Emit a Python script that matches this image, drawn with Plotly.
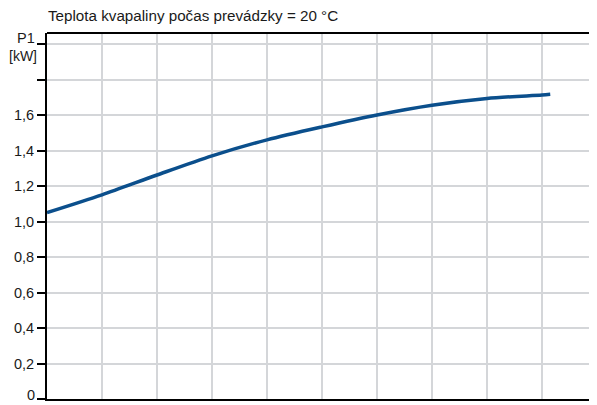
import plotly.graph_objects as go

x_vals = [0, 1, 2, 3, 4, 5, 6, 7, 8, 9, 9.15]
p1_kw = [1.05, 1.15, 1.262, 1.37, 1.46, 1.533, 1.6, 1.655, 1.693, 1.713, 1.717]

y_tickvals = [0, 0.2, 0.4, 0.6, 0.8, 1.0, 1.2, 1.4, 1.6, 1.8, 2.0]
y_ticktext = ["", "0,2", "0,4", "0,6", "0,8", "1,0", "1,2", "1,4", "1,6", "", ""]
x_gridvals = [1, 2, 3, 4, 5, 6, 7, 8, 9]

zero_label = "0"
axis_name = "P1"
unit_text = "[kW]"
title_text = "Teplota kvapaliny počas prevádzky = 20 °C"

font_family = "Liberation Sans, Arial, sans-serif"
text_color = "#1a1a1a"

# page body has an 8px margin; figure sized to fit the 597x405 window
W, H = 589, 397
PLOT_W = 550

fig = go.Figure()
fig.add_trace(go.Scatter(
    x=x_vals, y=p1_kw, mode="lines",
    line=dict(color="#0b4f8c", width=3.5, shape="spline", smoothing=0.8),
    showlegend=False, hoverinfo="skip",
))

fig.update_layout(
    width=W, height=H,
    margin=dict(l=39, r=0, t=25, b=6, autoexpand=False),
    paper_bgcolor="white", plot_bgcolor="white",
    font=dict(family=font_family, size=14, color=text_color),
    title=dict(text=title_text, x=40 / W, xanchor="left", xref="container",
               y=1 - 8 / H, yanchor="middle", yref="container",
               font=dict(family=font_family, size=15.2, color=text_color)),
    xaxis=dict(range=[0, 10], tickvals=x_gridvals, showticklabels=False,
               ticks="", showgrid=True, gridcolor="#d4d6d9", gridwidth=1.5,
               showline=True, linecolor="black", linewidth=2, zeroline=False,
               automargin=False, fixedrange=True),
    yaxis=dict(range=[0, 2.062], tickvals=y_tickvals, ticktext=y_ticktext,
               ticks="outside", ticklen=8, tickwidth=1.5, tickcolor="black",
               showgrid=True, gridcolor="#d4d6d9", gridwidth=1.5,
               showline=True, linecolor="black", linewidth=2, zeroline=False,
               tickfont=dict(family=font_family, size=14.5, color=text_color),
               automargin=False, fixedrange=True),
)

fig.add_shape(type="line", xref="paper", yref="paper", x0=0, x1=1, y0=1, y1=1,
              line=dict(color="black", width=2))

label_font = dict(family=font_family, size=14.5, color=text_color)
fig.add_annotation(text=zero_label, xref="paper", yref="y", x=-11 / PLOT_W, y=0,
                   xanchor="right", yanchor="bottom", yshift=-5, showarrow=False,
                   borderpad=0, font=label_font)
fig.add_annotation(text=axis_name, xref="paper", yref="y", x=-11 / PLOT_W, y=1.985,
                   xanchor="right", yanchor="bottom", showarrow=False,
                   borderpad=0, font=label_font)
fig.add_annotation(text=unit_text, xref="paper", yref="y", x=-9 / PLOT_W, y=1.985,
                   xanchor="right", yanchor="top", showarrow=False,
                   borderpad=0, font=dict(family=font_family, size=14, color=text_color))

fig.write_html("out.html")
